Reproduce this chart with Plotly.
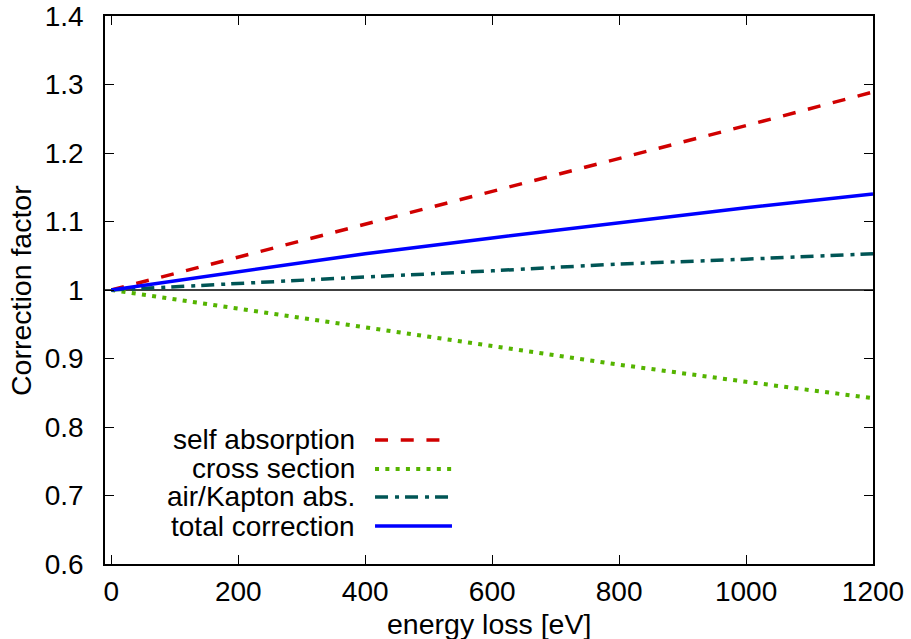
import plotly.graph_objects as go

# Data
energy = [0, 200, 400, 600, 800, 1000, 1200]
self_absorption = [1.000, 1.048, 1.096, 1.144, 1.191, 1.240, 1.289]
cross_section = [1.000, 0.973, 0.946, 0.919, 0.891, 0.866, 0.842]
air_kapton = [1.000, 1.010, 1.019, 1.028, 1.038, 1.045, 1.053]
total_correction = [1.000, 1.027, 1.053, 1.076, 1.098, 1.120, 1.140]

x_ticks = [0, 200, 400, 600, 800, 1000, 1200]
y_ticks = [0.6, 0.7, 0.8, 0.9, 1.0, 1.1, 1.2, 1.3, 1.4]
y_tick_text = ["0.6", "0.7", "0.8", "0.9", "1", "1.1", "1.2", "1.3", "1.4"]

series = [
    ("self absorption", self_absorption, "#d00000", 3.5, "13px,12.7px"),
    ("cross section", cross_section, "#55b400", 4, "4px,6.3px"),
    ("air/Kapton abs.", air_kapton, "#005555", 3.5, "13px,7px,4px,6px"),
    ("total correction", total_correction, "#0000ff", 3.5, "solid"),
]

FONT = "Liberation Sans, Arial, sans-serif"
FS = 28.5
LFS = 28
TFS = 28

fig = go.Figure()
for name, vals, color, width, dash in series:
    fig.add_trace(go.Scatter(x=energy, y=vals, mode="lines", name=name,
                             line=dict(color=color, width=width, dash=dash),
                             showlegend=False))

# horizontal reference line at 1
fig.add_shape(type="line", xref="paper", yref="y", x0=0, x1=1, y0=1, y1=1,
              line=dict(color="black", width=1.3), layer="below")

# manual gnuplot-style legend (text right aligned, sample on the right)
legend_rows_y = [0.2263, 0.1734, 0.1223, 0.0693]
for (name, vals, color, width, dash), ly in zip(series, legend_rows_y):
    fig.add_annotation(xref="paper", yref="paper", x=0.328, y=ly, text=name,
                       showarrow=False, xanchor="right", yanchor="middle",
                       font=dict(family=FONT, size=LFS, color="black"))
    fig.add_shape(type="line", xref="paper", yref="paper", x0=0.3516, x1=0.4518,
                  y0=ly, y1=ly, line=dict(color=color, width=width, dash=dash))

# axis titles
fig.add_annotation(xref="paper", yref="paper", x=0.5, y=-0.109, text="energy loss [eV]",
                   showarrow=False, xanchor="center", yanchor="middle",
                   font=dict(family=FONT, size=FS, color="black"))
fig.add_annotation(xref="paper", yref="paper", x=-0.1094, y=0.5, text="Correction factor",
                   showarrow=False, xanchor="center", yanchor="middle", textangle=-90,
                   font=dict(family=FONT, size=FS, color="black"))

axis_common = dict(showline=True, linecolor="black", linewidth=1.5, mirror="allticks",
                   ticks="inside", ticklen=9, tickwidth=1.2, tickcolor="black",
                   showgrid=False, zeroline=False, automargin=False,
                   tickfont=dict(family=FONT, size=TFS, color="black"))

fig.update_layout(
    width=911, height=639,
    margin=dict(l=105, r=38, t=16, b=75),
    paper_bgcolor="white", plot_bgcolor="white",
    xaxis=dict(range=[-10, 1200], tickvals=x_ticks, ticklabelstandoff=2, **axis_common),
    yaxis=dict(range=[0.6, 1.4], tickvals=y_ticks, ticktext=y_tick_text,
               ticklabelstandoff=14, **axis_common),
    showlegend=False,
)

fig.write_html("out.html")
